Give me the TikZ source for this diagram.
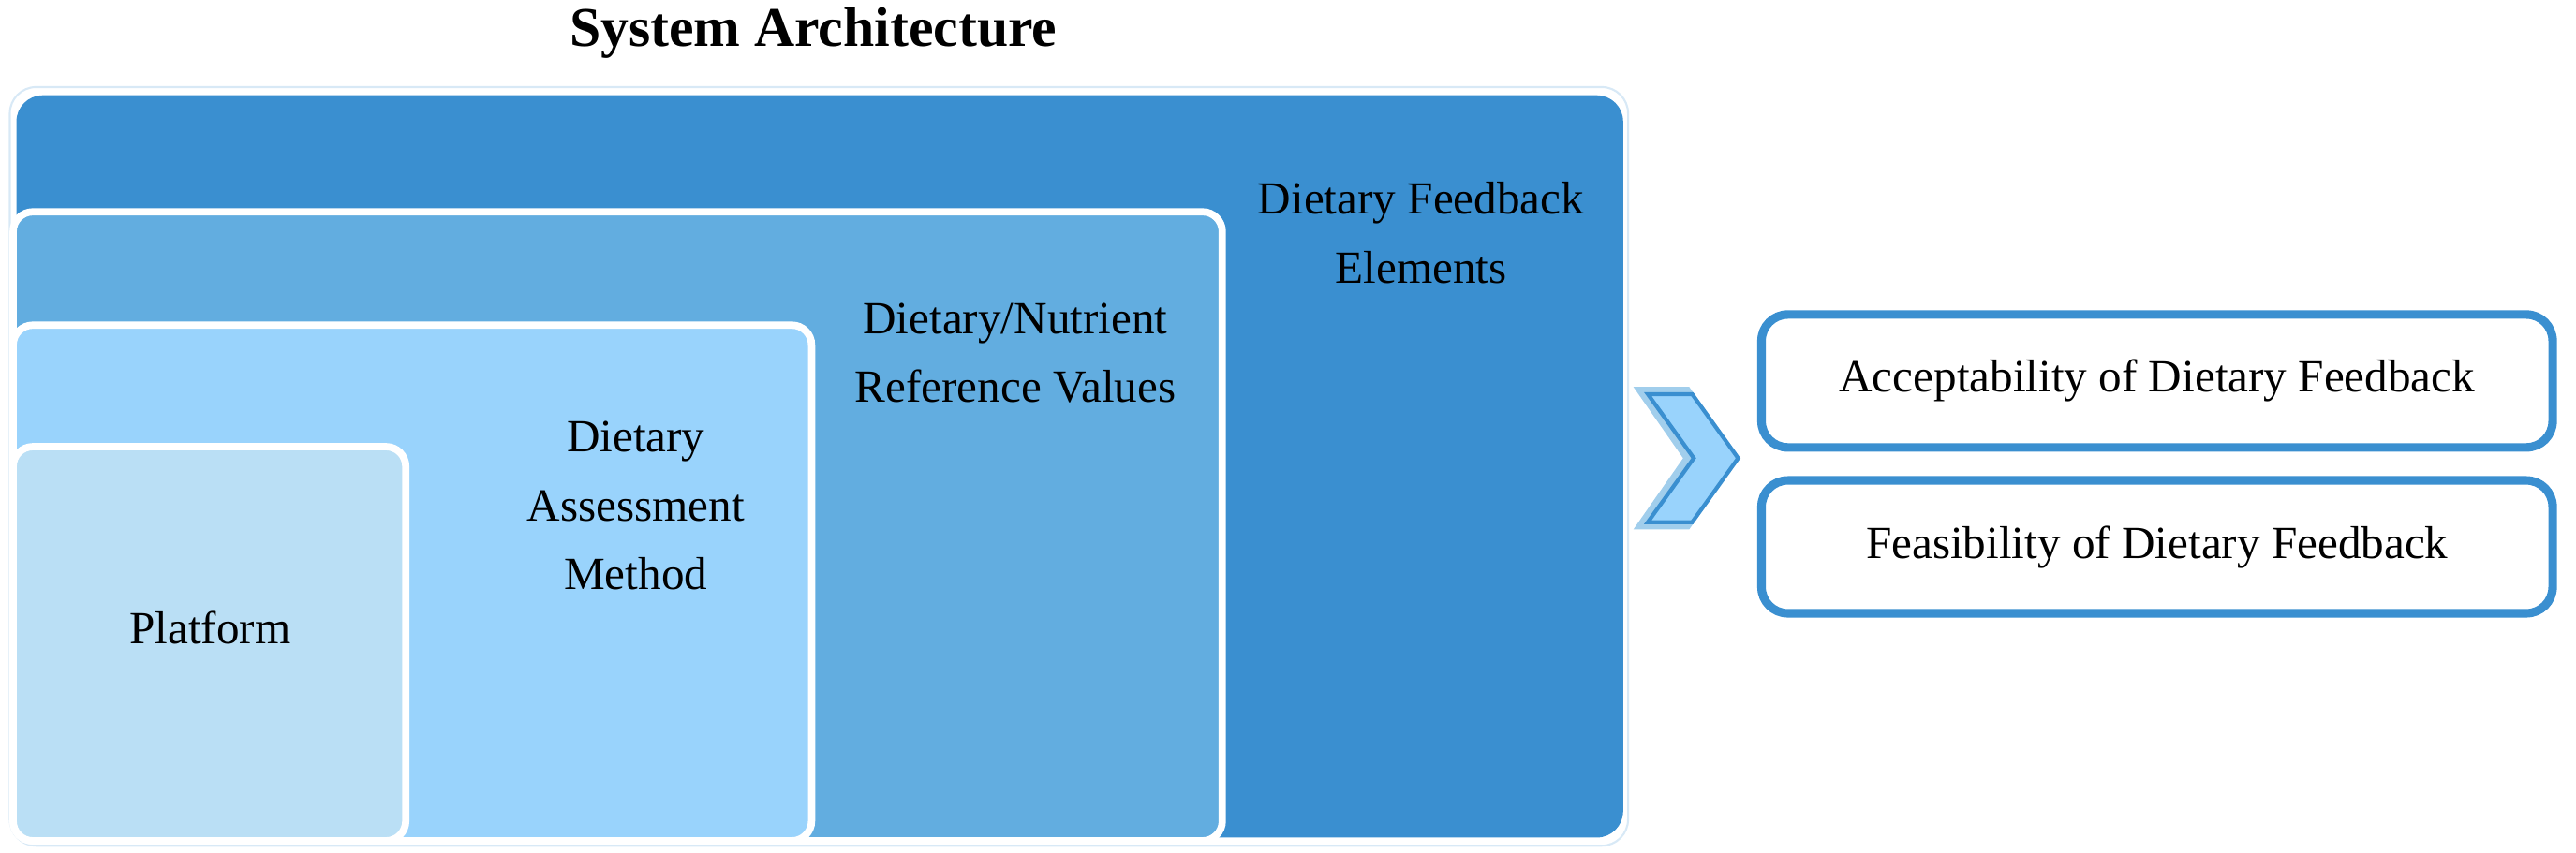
\documentclass[tikz,border=0pt]{standalone}
\usepackage{fontspec}
\setmainfont{Liberation Serif}
\definecolor{darkblue}{HTML}{3A8FD0}
\definecolor{midblue}{HTML}{62ADE0}
\definecolor{lightblue}{HTML}{99D3FC}
\definecolor{paleblue}{HTML}{BADFF5}
\begin{document}
\begin{tikzpicture}
[
x=0.01754cm, y=-0.01754cm,
layer/.style={draw=white, line width=2.2pt, rounded corners=6pt},
lbl/.style={font=\fontsize{14}{17}\selectfont, align=center},
result/.style={draw=darkblue, line width=2.6pt, fill=white, rounded corners=8pt, minimum width=8.45cm, minimum height=1.42cm, font=\fontsize{14}{17}\selectfont}
]
\useasboundingbox (0,0) rectangle (1568,519);
%Title
\node[font=\fontsize{17}{20}\selectfont\bfseries] (title) at (495,20) {System Architecture};
%Layers
\draw[draw=darkblue!20, line width=0.6pt, rounded corners=8pt] (6,53) rectangle (991,515);
\fill[darkblue, rounded corners=8pt] (10,58) rectangle (988,510);
\draw[layer, fill=midblue] (8,129) rectangle (744,512);
\draw[layer, fill=lightblue] (8,198) rectangle (494,512);
\draw[layer, fill=paleblue] (8,272) rectangle (247,512);
\node[lbl] (elements)  at (865,142) {Dietary Feedback\\[4pt]Elements};
\node[lbl] (reference) at (618,215) {Dietary/Nutrient\\[4pt]Reference Values};
\node[lbl] (method)    at (387,308) {Dietary\\[4pt]Assessment\\[4pt]Method};
\node[lbl] (platform)  at (128,382) {Platform};
%Chevron
\filldraw[fill=midblue!60, draw=midblue!60] (995,236) -- (1028,236) -- (1058,279) -- (1028,322) -- (995,322) -- (1025,279) -- cycle;
\filldraw[fill=lightblue, draw=darkblue, line width=1.2pt] (1003,240) -- (1030,240) -- (1058,279) -- (1030,318) -- (1003,318) -- (1031,279) -- cycle;
%Results
\node[result] (accept)   at (1313,232) {Acceptability of Dietary Feedback};
\node[result] (feasible) at (1313,333) {Feasibility of Dietary Feedback};
\end{tikzpicture}
\end{document}
